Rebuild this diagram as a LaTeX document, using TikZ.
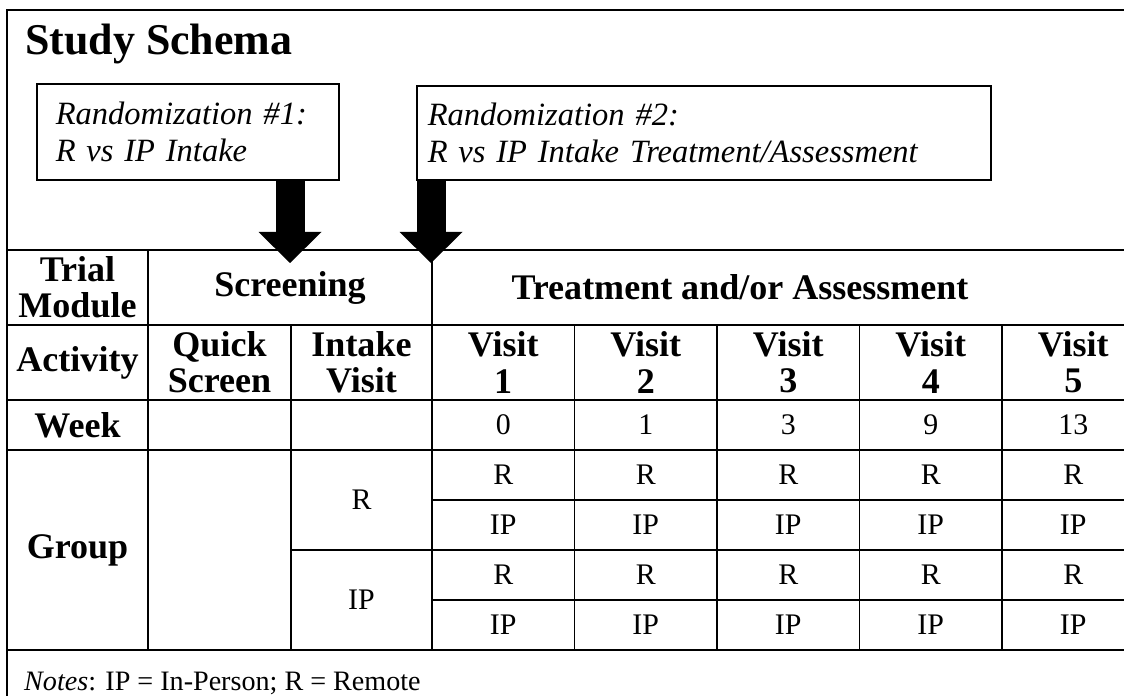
\documentclass[tikz,border=0pt]{standalone}
\usepackage{fontspec}
\setmainfont{Liberation Serif}
\usepackage{tikz}
\usetikzlibrary{arrows.meta,positioning,calc}

\tikzset{
	rbox/.style={draw, line width=0.9pt, anchor=north west, align=left, font=\fontsize{18.5}{21}\selectfont\itshape},
	hd/.style={font=\fontsize{20.5}{20.5}\selectfont\bfseries, align=center},
	cell/.style={font=\fontsize{17}{20}\selectfont},
	tabline/.style={line width=1.1pt},
	bigarrow/.style={line width=0.58cm, -{Triangle[width=1.26cm,length=0.62cm,line width=0pt]}}
}

\begin{document}
\begin{tikzpicture}
	\useasboundingbox (0,0) rectangle (22.48,-13.92);
	\draw[tabline] (22.48,-0.2) -- (0.14,-0.2) -- (0.14,-13.92);
	\node[anchor=base west, font=\fontsize{25}{30}\selectfont\bfseries] (title) at (0.38,-1.1) {Study Schema};
	\node[rbox, text width=5.28cm, inner xsep=0.38cm, minimum height=1.92cm] (rand1) at (0.72,-1.66) {Randomization \#1:\\R vs IP Intake};
	\node[rbox, text width=11.04cm, inner xsep=0.22cm, minimum height=1.88cm] (rand2) at (8.32,-1.7) {Randomization \#2:\\R vs IP Intake Treatment/Assessment};
	% table rules
	\draw[tabline] (0.14,-5) -- (22.48,-5) (0.14,-6.5) -- (22.48,-6.5) (0.14,-8) -- (22.48,-8) (0.14,-9) -- (22.48,-9) (0.14,-13) -- (22.48,-13);
	\draw[tabline] (8.64,-10) -- (22.48,-10) (5.82,-11) -- (22.48,-11) (8.64,-12) -- (22.48,-12);
	\draw[tabline] (2.96,-5) -- (2.96,-13) (8.64,-5) -- (8.64,-13) (5.82,-6.5) -- (5.82,-13);
	\foreach \x in {11.49,14.34,17.19,20.04} \draw[tabline] (\x,-6.5) -- (\x,-13);
	% header
	\node[hd] (module) at (1.55,-5.75) {Trial\\Module};
	\node[hd] (screening) at (5.8,-5.75) {Screening};
	\node[hd] (treatment) at (14.8,-5.75) {Treatment and/or Assessment};
	\node[hd] (activity) at (1.55,-7.25) {Activity};
	\node[hd] (quick) at (4.39,-7.25) {Quick\\Screen};
	\node[hd] (intake) at (7.23,-7.25) {Intake\\Visit};
	\node[hd] (week) at (1.55,-8.5) {Week};
	\node[hd] (group) at (1.55,-11) {Group};
	\node[cell] (intakeR) at (7.23,-10) {R};
	\node[cell] (intakeIP) at (7.23,-12) {IP};
	\foreach \i/\w in {1/0,2/1,3/3,4/9,5/13}{
		\node[hd] (visit\i) at ({10.065+2.85*(\i-1)},-7.25) {Visit\\\i};
		\node[cell] (week\i) at ({10.065+2.85*(\i-1)},-8.5) {\w};
		\node[cell] (rr\i) at ({10.065+2.85*(\i-1)},-9.5) {R};
		\node[cell] (rip\i) at ({10.065+2.85*(\i-1)},-10.5) {IP};
		\node[cell] (ipr\i) at ({10.065+2.85*(\i-1)},-11.5) {R};
		\node[cell] (ipip\i) at ({10.065+2.85*(\i-1)},-12.5) {IP};
	}
	\node[cell, font=\fontsize{16}{19}\selectfont, anchor=base west] (notes) at (0.36,-13.8) {\textit{Notes}: IP = In-Person; R = Remote};
	% randomization arrows
	\coordinate (tip1) at (5.8,-5.26);
	\coordinate (tip2) at (8.62,-5.26);
	\draw[bigarrow] (rand1.south -| tip1) -- (tip1);
	\draw[bigarrow] (rand2.south -| tip2) -- (tip2);
\end{tikzpicture}
\end{document}
